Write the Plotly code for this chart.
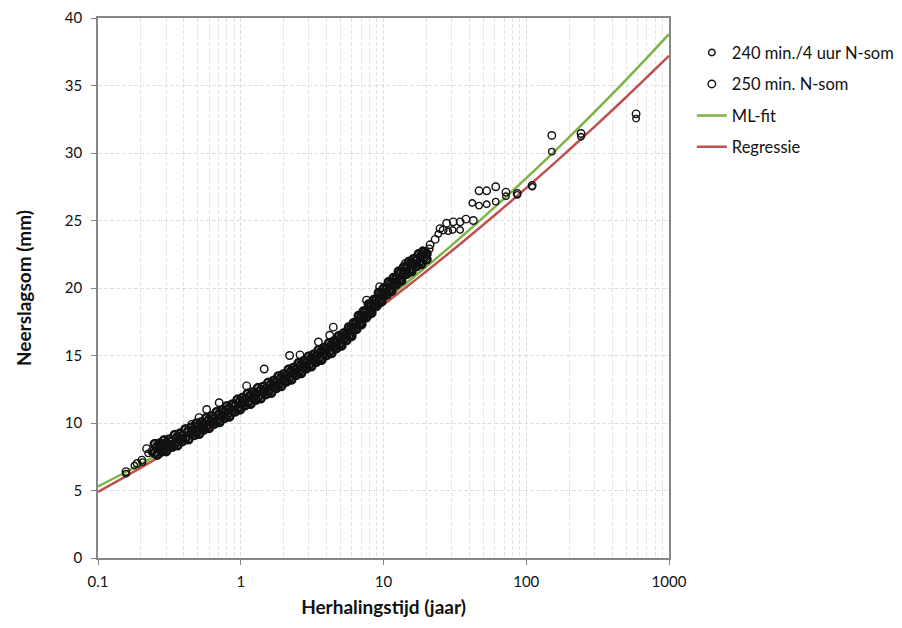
import plotly.graph_objects as go

# ---------------- data ----------------
# dense band: shared return periods (jaar) and the two N-som series (mm)
band_T = [0.25, 0.26, 0.27, 0.28, 0.29, 0.30, 0.315, 0.33, 0.345, 0.36, 0.375, 0.39,
          0.41, 0.43, 0.45, 0.47, 0.49, 0.51, 0.53, 0.55, 0.575, 0.60, 0.625, 0.65,
          0.68, 0.71, 0.74, 0.77, 0.80, 0.83, 0.87, 0.91, 0.95, 0.99, 1.03, 1.07,
          1.12, 1.17, 1.22, 1.27, 1.32, 1.38, 1.44, 1.50, 1.56, 1.63, 1.70, 1.77,
          1.84, 1.92, 2.0, 2.08, 2.17, 2.26, 2.35, 2.45, 2.55, 2.65, 2.76, 2.88,
          3.0, 3.12, 3.25, 3.38, 3.52, 3.67, 3.82, 3.98, 4.15, 4.32, 4.5, 4.68,
          4.87, 5.07, 5.28, 5.5, 5.73, 5.96, 6.2, 6.45, 6.72, 7.0, 7.28, 7.58,
          7.9, 8.22, 8.56, 8.91, 9.28, 9.66, 10.05, 10.5, 10.9, 11.35, 11.8, 12.3,
          12.8, 13.3, 13.9, 14.5, 15.1, 15.7, 16.3, 17.0, 17.7, 18.4, 19.2, 20.0]

band_250 = [8.44, 8.26, 8.48, 8.30, 8.71, 8.52, 8.78, 8.65, 9.11, 8.96, 9.21, 9.06,
            9.53, 9.40, 9.66, 9.51, 9.96, 9.81, 10.06, 9.91, 10.37, 10.24, 10.50, 10.35,
            10.82, 10.68, 10.94, 10.79, 11.24, 11.09, 11.36, 11.25, 11.73, 11.61, 11.86, 11.71,
            12.17, 12.03, 12.28, 12.13, 12.58, 12.43, 12.69, 12.54, 12.98, 12.85, 13.12, 13.00,
            13.46, 13.34, 13.61, 13.48, 13.96, 13.83, 14.09, 13.97, 14.44, 14.31, 14.58, 14.46,
            14.93, 14.80, 15.07, 14.94, 15.41, 15.29, 15.55, 15.43, 15.91, 15.78, 16.06, 15.95,
            16.45, 16.35, 16.65, 16.55, 17.09, 17.05, 17.41, 17.37, 17.95, 17.91, 18.27, 18.23,
            18.80, 18.76, 19.12, 19.09, 19.65, 19.61, 19.97, 19.92, 20.44, 20.39, 20.72, 20.67,
            21.22, 21.16, 21.53, 21.45, 21.95, 21.85, 22.14, 22.03, 22.51, 22.38, 22.66, 22.53]

band_240 = [7.79, 7.66, 8.08, 7.90, 8.06, 7.92, 8.38, 8.25, 8.46, 8.36, 8.81, 8.66,
            8.88, 8.80, 9.26, 9.11, 9.31, 9.21, 9.66, 9.51, 9.72, 9.64, 10.10, 9.95,
            10.17, 10.08, 10.54, 10.39, 10.59, 10.49, 10.96, 10.85, 11.08, 11.01, 11.46, 11.31,
            11.52, 11.43, 11.88, 11.73, 11.93, 11.83, 12.29, 12.14, 12.33, 12.25, 12.72, 12.60,
            12.81, 12.74, 13.21, 13.08, 13.31, 13.23, 13.69, 13.57, 13.79, 13.71, 14.18, 14.06,
            14.28, 14.20, 14.67, 14.54, 14.76, 14.69, 15.15, 15.03, 15.26, 15.18, 15.66, 15.55,
            15.80, 15.75, 16.25, 16.15, 16.44, 16.45, 17.01, 16.97, 17.30, 17.31, 17.87, 17.83,
            18.15, 18.16, 18.72, 18.69, 19.00, 19.01, 19.57, 19.52, 19.79, 19.79, 20.32, 20.27,
            20.57, 20.56, 21.13, 21.05, 21.30, 21.25, 21.74, 21.63, 21.86, 21.78, 22.26, 22.13]

# isolated points: low tail, outliers above the band, and the upper tail
extra_T_250 = [0.157, 0.188, 0.203, 0.219, 0.238, 0.453, 0.51, 0.577, 0.706, 1.10,
               1.46, 2.2, 2.6, 3.5, 4.2, 4.45, 7.6, 9.4, 11.7, 14.2,
               20.9, 21.2, 23.0, 24.9, 26.2, 27.7, 30.8, 34.4, 37.8, 42.6,
               46.7, 52.8, 61.1, 72.1, 86.5, 110, 151, 242, 588]
extra_v_250 = [6.4, 7.0, 7.25, 8.1, 7.9, 9.9, 10.4, 11.0, 11.5, 12.75,
               14.0, 15.0, 15.05, 16.0, 16.5, 17.1, 19.1, 20.1, 20.8, 21.8,
               22.9, 23.2, 23.6, 24.4, 24.3, 24.8, 24.9, 24.9, 25.1, 25.0,
               27.2, 27.2, 27.5, 27.1, 27.0, 27.6, 31.3, 31.45, 32.9]

extra_T_240 = [0.157, 0.18, 0.205, 0.225, 0.24, 18.5, 18.8, 20.1, 24.2, 28.4,
               30.5, 34.4, 41.9, 46.7, 52.8, 61.1, 72.1, 86.5, 110, 151, 242, 588]
extra_v_240 = [6.25, 6.85, 7.1, 7.75, 7.8, 22.3, 22.8, 22.4, 24.0, 24.2,
               24.3, 24.3, 26.3, 26.1, 26.2, 26.4, 26.8, 26.9, 27.5, 30.1, 31.2, 32.55]

# fitted curves
fit_T = [0.1, 0.15, 0.2, 0.3, 0.5, 0.7, 1, 1.5, 2, 3, 5, 7, 10, 15, 20, 30, 50, 70,
         100, 150, 200, 300, 500, 700, 1000]
ml_fit = [5.3, 6.26, 6.97, 8.02, 9.40, 10.34, 11.39, 12.62, 13.52, 14.83, 16.55, 17.72,
          19.0, 20.5, 21.59, 23.16, 25.23, 26.62, 28.14, 29.9, 31.18, 33.03, 35.42, 37.05, 38.8]
regressie = [4.9, 5.94, 6.69, 7.79, 9.22, 10.20, 11.26, 12.50, 13.40, 14.69, 16.38, 17.52,
             18.76, 20.2, 21.24, 22.74, 24.68, 25.99, 27.41, 29.05, 30.24, 31.94, 34.13, 35.61, 37.2]

x_tickvals = [0.1, 1, 10, 100, 1000]
x_ticktext = ["0.1", "1", "10", "100", "1000"]
y_tickvals = [0, 5, 10, 15, 20, 25, 30, 35, 40]

# ---------------- figure ----------------
FONT = "Lato, 'Open Sans', Arial, sans-serif"
INK = "#111111"
fig = go.Figure()

# fit lines first so that the dense points sit on top of them
fig.add_trace(go.Scatter(x=fit_T, y=ml_fit, mode="lines", name="ML-fit",
                         line=dict(color="#7cb342", width=2.5, shape="spline"),
                         legendrank=3, legendgroup="c"))
fig.add_trace(go.Scatter(x=fit_T, y=regressie, mode="lines", name="Regressie",
                         line=dict(color="#c0504d", width=2.5, shape="spline"),
                         legendrank=4, legendgroup="d"))

# dense band (drawn with heavier outlines, no own legend entry)
fig.add_trace(go.Scatter(x=band_T, y=band_240, mode="markers", showlegend=False,
                         legendgroup="a", hoverinfo="skip",
                         marker=dict(symbol="circle-open", size=8, color=INK,
                                     line=dict(width=2.6))))
fig.add_trace(go.Scatter(x=band_T, y=band_250, mode="markers", showlegend=False,
                         legendgroup="b", hoverinfo="skip",
                         marker=dict(symbol="circle-open", size=8, color=INK,
                                     line=dict(width=2.6))))

# isolated points with legend entries
fig.add_trace(go.Scatter(x=extra_T_240, y=extra_v_240,
                         mode="markers", name="240 min./4 uur N-som",
                         marker=dict(symbol="circle-open", size=6.5, color=INK,
                                     line=dict(width=1.4)),
                         legendrank=1, legendgroup="a"))
fig.add_trace(go.Scatter(x=extra_T_250, y=extra_v_250,
                         mode="markers", name="250 min. N-som",
                         marker=dict(symbol="circle-open", size=7.5, color=INK,
                                     line=dict(width=1.4)),
                         legendrank=2, legendgroup="b"))

GRID = "#dedede"
fig.update_layout(
    width=894, height=620,
    margin=dict(l=90, r=233, t=10, b=70, autoexpand=False),
    paper_bgcolor="white", plot_bgcolor="white",
    font=dict(family=FONT, size=15, color=INK),
    showlegend=True,
    legend=dict(x=1.04, y=0.968, xanchor="left", yanchor="top",
                font=dict(family=FONT, size=16.5, color=INK),
                tracegroupgap=7, bgcolor="rgba(0,0,0,0)"),
    xaxis=dict(
        type="log", range=[-1, 3], automargin=False,
        tickvals=x_tickvals, ticktext=x_ticktext,
        ticks="outside", ticklen=5, tickcolor="#868686", ticklabelstandoff=4,
        showline=True, linecolor="#868686", linewidth=1.5, mirror=True,
        showgrid=True, gridcolor=GRID, griddash="4px,2px", gridwidth=1,
        minor=dict(dtick="D1", showgrid=True, gridcolor="#e4e4e4",
                   griddash="4px,2px", gridwidth=1, ticks=""),
        zeroline=False,
        tickfont=dict(size=15),
        title=dict(text="<b>Herhalingstijd (jaar)</b>", font=dict(size=19), standoff=12),
    ),
    yaxis=dict(
        range=[0, 40], tickvals=y_tickvals, automargin=False,
        ticks="outside", ticklen=5, tickcolor="#868686", ticklabelstandoff=6,
        showline=True, linecolor="#868686", linewidth=1.5, mirror=True,
        showgrid=True, gridcolor=GRID, griddash="4px,2px", gridwidth=1,
        zeroline=False,
        tickfont=dict(size=15),
        title=dict(text="<b>Neerslagsom (mm)</b>", font=dict(size=19), standoff=28),
    ),
)

fig.write_html("out.html")
